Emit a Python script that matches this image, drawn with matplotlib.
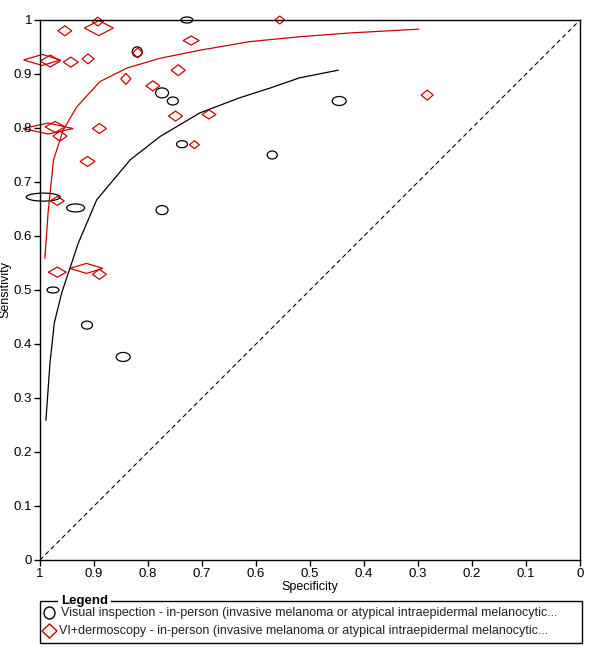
import matplotlib
matplotlib.use("Agg")
import matplotlib.pyplot as plt
from matplotlib.patches import Ellipse, Polygon, Rectangle

plt.rcParams['font.family'] = ['Liberation Sans', 'DejaVu Sans']

# ---- Data: Visual inspection (circles) ----
vi_spec = [0.728, 0.820, 0.774, 0.754, 0.737, 0.570, 0.446, 0.994, 0.934, 0.774, 0.976, 0.913, 0.846]
vi_sens = [1.000, 0.941, 0.865, 0.850, 0.770, 0.750, 0.850, 0.672, 0.652, 0.648, 0.500, 0.435, 0.376]
vi_w = [12, 10, 13, 11, 11, 10, 14, 34, 18, 12, 12, 11, 14]
vi_h = [6, 10, 10, 8, 7, 8, 9, 8, 8, 9, 6, 8, 9]

# ---- Data: VI + dermoscopy (diamonds) ----
vd_spec = [0.954, 0.893, 0.891, 0.996, 0.981, 0.943, 0.911, 0.841, 0.720, 0.819, 0.744, 0.791, 0.749,
           0.687, 0.714, 0.890, 0.556, 0.283, 0.985, 0.972, 0.963, 0.912, 0.968, 0.968, 0.914, 0.890]
vd_sens = [0.980, 0.997, 0.985, 0.926, 0.924, 0.922, 0.928, 0.891, 0.962, 0.939, 0.907, 0.878, 0.822,
           0.825, 0.769, 0.799, 1.000, 0.861, 0.799, 0.802, 0.785, 0.738, 0.665, 0.533, 0.540, 0.529]
vd_w = [14, 11, 29, 37, 20, 15, 12, 10, 16, 10, 14, 14, 14, 14, 10, 14, 10, 12, 50, 20, 14, 15, 14, 18, 33, 14]
vd_h = [10, 9, 15, 11, 12, 10, 10, 11, 9, 10, 11, 10, 10, 9, 8, 10, 8, 10, 11, 11, 10, 10, 9, 10, 10, 10]

# ---- SROC curves ----
vi_curve_spec = [0.989, 0.9815, 0.9735, 0.960, 0.929, 0.895, 0.833, 0.778, 0.704, 0.630, 0.574, 0.519, 0.448]
vi_curve_sens = [0.259, 0.365, 0.439, 0.494, 0.587, 0.667, 0.741, 0.784, 0.828, 0.856, 0.874, 0.893, 0.907]
vd_curve_spec = [0.991, 0.985, 0.975, 0.957, 0.932, 0.889, 0.839, 0.778, 0.704, 0.611, 0.519, 0.426, 0.299]
vd_curve_sens = [0.559, 0.643, 0.741, 0.796, 0.839, 0.886, 0.911, 0.929, 0.944, 0.960, 0.969, 0.976, 0.983]

ticks = [1, 0.9, 0.8, 0.7, 0.6, 0.5, 0.4, 0.3, 0.2, 0.1, 0]
tick_labels = ['1', '0.9', '0.8', '0.7', '0.6', '0.5', '0.4', '0.3', '0.2', '0.1', '0']
legend_labels = ['Visual inspection - in-person (invasive melanoma or atypical intraepidermal melanocytic...',
                 'VI+dermoscopy - in-person (invasive melanoma or atypical intraepidermal melanocytic...']

W, H = 600, 664
fig = plt.figure(figsize=(W / 100, H / 100), dpi=100)
ax = fig.add_axes([40 / W, 104 / H, 540 / W, 540 / H])
ax.set_xlim(1, 0)
ax.set_ylim(0, 1)
PX = 1 / 540.0

red = '#cc0000'
ax.plot([1, 0], [0, 1], color='black', linestyle=(0, (4, 3)), linewidth=0.8)
ax.plot(vi_curve_spec, vi_curve_sens, color='black', linewidth=0.9)
ax.plot(vd_curve_spec, vd_curve_sens, color=red, linewidth=0.9)

for s, se, w, h in zip(vi_spec, vi_sens, vi_w, vi_h):
    ax.add_patch(Ellipse((s, se), w * PX, h * PX, facecolor='none', edgecolor='black', linewidth=0.9, clip_on=False))
for s, se, w, h in zip(vd_spec, vd_sens, vd_w, vd_h):
    dw, dh = w * PX / 2, h * PX / 2
    ax.add_patch(Polygon([(s + dw, se), (s, se + dh), (s - dw, se), (s, se - dh)], closed=True,
                         facecolor='none', edgecolor=red, linewidth=0.9, clip_on=False))

ax.set_xticks(ticks)
ax.set_xticklabels(tick_labels)
ax.set_yticks(ticks)
ax.set_yticklabels(tick_labels)
ax.tick_params(direction='out', length=4, width=1, labelsize=9.5, pad=1.5)
for sp in ax.spines.values():
    sp.set_linewidth(1.0)
ax.set_xlabel('Specificity', fontsize=9, labelpad=1)
ax.set_ylabel('Sensitivity', fontsize=9, labelpad=2)

ov = fig.add_axes([0, 0, 1, 1], zorder=5)
ov.set_xlim(0, W)
ov.set_ylim(H, 0)
ov.axis('off')
ov.patch.set_alpha(0)
ov.add_patch(Rectangle((40, 601), 542, 42, facecolor='none', edgecolor='black', linewidth=1.0))
ov.text(61, 601, 'Legend', fontsize=9.5, fontweight='bold', va='center', ha='left',
        bbox=dict(facecolor='white', edgecolor='none', pad=2))
ov.add_patch(Ellipse((49.5, 613), 11, 12, facecolor='none', edgecolor='black', linewidth=1.0))
ov.add_patch(Polygon([(42, 631), (49.5, 624), (57, 631), (49.5, 638)], closed=True,
                     facecolor='none', edgecolor=red, linewidth=1.0))
ov.text(61, 613, legend_labels[0], fontsize=9, va='center', ha='left', color='#222222')
ov.text(59, 631, legend_labels[1], fontsize=9, va='center', ha='left', color='#222222')

fig.savefig('out.png', dpi=100)
